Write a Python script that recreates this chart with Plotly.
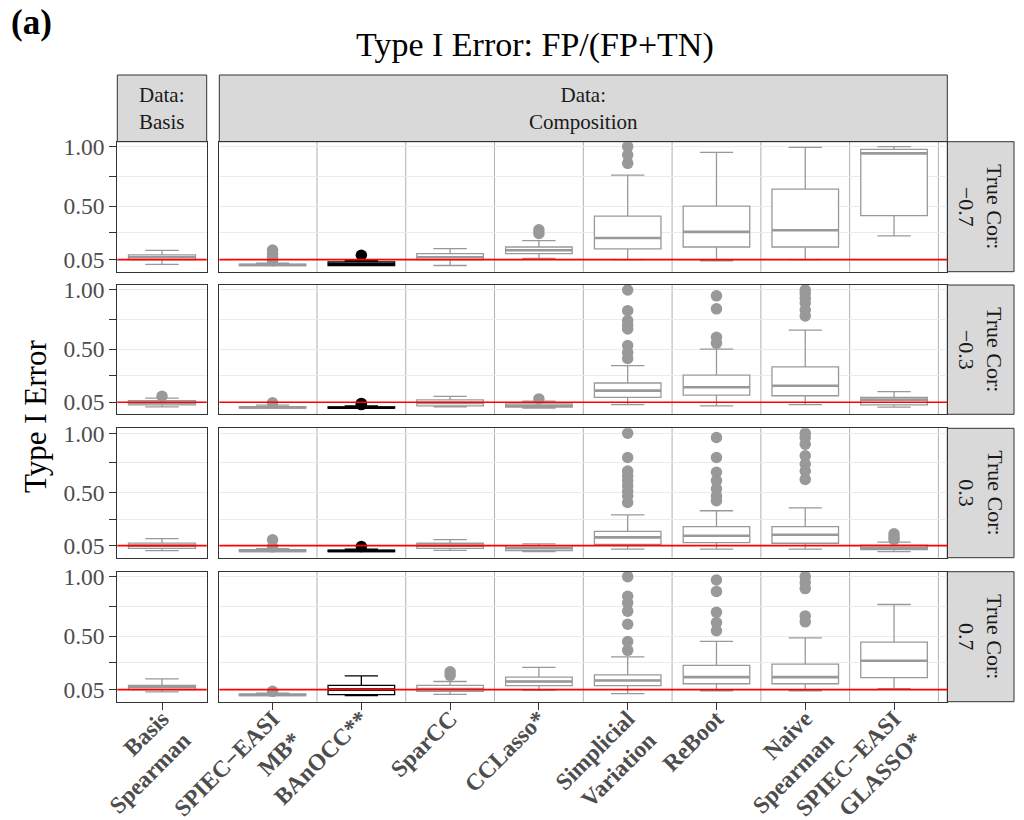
import plotly.graph_objects as go

# ---------------- data ----------------
methods = ["Basis Spearman", "SPIEC-EASI MB", "BAnOCC", "SparCC", "CCLasso",
           "Simplicial Variation", "ReBoot", "Naive Spearman", "SPIEC-EASI GLASSO"]
method_labels = ["Basis<br>Spearman", "SPIEC\u2212EASI<br>MB*", "BAnOCC**", "SparCC", "CCLasso*",
                 "Simplicial<br>Variation", "ReBoot", "Naive<br>Spearman", "SPIEC\u2212EASI<br>GLASSO*"]
method_group = ["Basis"] + ["Composition"] * 8
data_groups = ["Basis", "Composition"]
true_cor = ["\u22120.7", "\u22120.3", "0.3", "0.7"]
ALPHA = 0.05
y_tick_vals = [0.05, 0.275, 0.5, 0.75, 1.0]
y_tick_text = ["0.05", "", "0.50", "", "1.00"]

# box statistics, one row per True Cor level, one column per method
LOWER = [
    [0.01, 0.0, 0.0, 0.0, 0.06, 0.05, 0.04, 0.05, 0.25],
    [0.01, 0.0, 0.0, 0.01, 0.0, 0.03, 0.02, 0.03, 0.008],
    [0.008, 0.0, 0.0, 0.01, 0.0, 0.02, 0.02, 0.02, 0.0],
    [0.03, 0.0, 0.0, 0.01, 0.045, 0.016, 0.04, 0.04, 0.058],
]
Q1 = [
    [0.05, 0.0, 0.0, 0.05, 0.10, 0.14, 0.156, 0.156, 0.42],
    [0.027, 0.0, 0.0, 0.02, 0.008, 0.092, 0.11, 0.105, 0.027],
    [0.027, 0.0, 0.0, 0.027, 0.008, 0.06, 0.075, 0.07, 0.016],
    [0.05, 0.0, 0.008, 0.035, 0.083, 0.083, 0.099, 0.099, 0.151],
]
MEDIAN = [
    [0.07, 0.005, 0.015, 0.07, 0.128, 0.232, 0.283, 0.297, 0.944],
    [0.045, 0.005, 0.004, 0.045, 0.02, 0.148, 0.177, 0.19, 0.072],
    [0.05, 0.005, 0.005, 0.05, 0.028, 0.12, 0.134, 0.142, 0.03],
    [0.07, 0.005, 0.05, 0.055, 0.118, 0.127, 0.155, 0.155, 0.292],
]
Q3 = [
    [0.09, 0.012, 0.03, 0.10, 0.156, 0.415, 0.50, 0.643, 0.978],
    [0.063, 0.012, 0.01, 0.07, 0.036, 0.213, 0.28, 0.35, 0.092],
    [0.072, 0.016, 0.012, 0.07, 0.05, 0.17, 0.21, 0.21, 0.055],
    [0.085, 0.014, 0.085, 0.085, 0.155, 0.174, 0.254, 0.264, 0.449],
]
UPPER = [
    [0.128, 0.02, 0.04, 0.143, 0.21, 0.761, 0.953, 0.995, 1.0],
    [0.085, 0.025, 0.02, 0.10, 0.06, 0.36, 0.50, 0.66, 0.14],
    [0.11, 0.025, 0.02, 0.10, 0.065, 0.31, 0.345, 0.37, 0.08],
    [0.14, 0.02, 0.165, 0.118, 0.237, 0.325, 0.455, 0.485, 0.766],
]
OUTLIERS = [
    [[], [0.13, 0.10, 0.07, 0.04], [0.086], [], [0.30, 0.27],
     [1.0, 0.93, 0.86], [], [], []],
    [[0.10], [0.045], [0.04, 0.03], [], [0.078],
     [1.0, 0.825, 0.74, 0.70, 0.67, 0.53, 0.47, 0.42],
     [0.95, 0.84, 0.60, 0.55],
     [1.0, 0.97, 0.93, 0.89, 0.83, 0.78], []],
    [[], [0.10, 0.04], [0.042], [], [],
     [1.0, 0.795, 0.68, 0.64, 0.60, 0.556, 0.51, 0.47, 0.415],
     [0.964, 0.795, 0.67, 0.60, 0.53, 0.47, 0.43],
     [1.0, 0.964, 0.907, 0.81, 0.74, 0.68, 0.61],
     [0.15, 0.12, 0.10]],
    [[], [0.035], [], [0.20, 0.17], [],
     [1.0, 0.835, 0.78, 0.71, 0.60, 0.455, 0.38],
     [0.972, 0.876, 0.70, 0.614, 0.545],
     [1.0, 0.95, 0.90, 0.67, 0.62],
     []],
]

# ---------------- styling / layout ----------------
FONT = "Liberation Serif"
GREY = "#999999"
BLACK = "#000000"
W, H = 1024, 820
col_px = [(117.3, 206.7), (219.3, 947.3)]
row_px = [(141.7, 271.7), (285.0, 414.3), (428.3, 557.7), (571.7, 701.7)]
top_strip_px = (75.0, 141.7)
right_strip_px = (947.3, 1014.0)
x_ranges = [[-0.5, 0.5], [-0.6, 7.6]]
y_range = [-0.052, 1.042]


def px_x(v):
    return v / W


def px_y(v):
    return 1 - v / H


fig = go.Figure()
layout = {}
shapes = []
annotations = []

for r in range(4):
    for c, grp in enumerate(data_groups):
        n = r * 2 + c + 1
        xa = "x" if n == 1 else f"x{n}"
        ya = "y" if n == 1 else f"y{n}"
        idx = [i for i, g in enumerate(method_group) if g == grp]
        for color in (GREY, BLACK):
            sel = [i for i in idx if (methods[i] == "BAnOCC") == (color == BLACK)]
            if not sel:
                continue
            xs = [methods[i] for i in sel]
            meds = [MEDIAN[r][i] for i in sel]
            fig.add_trace(go.Box(
                x=xs,
                lowerfence=[LOWER[r][i] for i in sel],
                q1=[Q1[r][i] for i in sel],
                median=meds,
                q3=[Q3[r][i] for i in sel],
                upperfence=[UPPER[r][i] for i in sel],
                boxpoints=False, width=0.75,
                fillcolor="white", line=dict(color=color, width=1.3),
                xaxis=xa, yaxis=ya, showlegend=False, hoverinfo="skip"))
            # thicker median bar (as in ggplot's fattened median)
            fig.add_trace(go.Box(
                x=xs, lowerfence=meds, q1=meds, median=meds, q3=meds, upperfence=meds,
                boxpoints=False, width=0.75,
                fillcolor=color, line=dict(color=color, width=2.6),
                xaxis=xa, yaxis=ya, showlegend=False, hoverinfo="skip"))
            ox, oy = [], []
            for i in sel:
                for v in OUTLIERS[r][i]:
                    ox.append(methods[i])
                    oy.append(v)
            if ox:
                fig.add_trace(go.Scatter(
                    x=ox, y=oy, mode="markers",
                    marker=dict(color=color, size=11.5, line=dict(width=0)),
                    xaxis=xa, yaxis=ya, showlegend=False, hoverinfo="skip"))

        cats = [methods[i] for i in idx]
        labs = [method_labels[i] for i in idx]
        bottom = (r == 3)
        layout["xaxis" if n == 1 else f"xaxis{n}"] = dict(
            domain=[px_x(col_px[c][0]), px_x(col_px[c][1])],
            anchor=ya, type="category", automargin=False,
            categoryorder="array", categoryarray=cats,
            tickvals=cats, ticktext=labs,
            range=x_ranges[c], showgrid=False, zeroline=False,
            showline=True, mirror=True, linecolor="#333333", linewidth=1,
            ticks="outside" if bottom else "", ticklen=7, tickcolor="#333333", tickwidth=1,
            showticklabels=bottom, tickangle=-45, ticklabelstandoff=-14,
            tickfont=dict(family=FONT, size=23.5, color="#4d4d4d", weight="bold"),
            fixedrange=True)
        layout["yaxis" if n == 1 else f"yaxis{n}"] = dict(
            domain=[px_y(row_px[r][1]), px_y(row_px[r][0])],
            anchor=xa, range=y_range, automargin=False,
            tickmode="array", tickvals=y_tick_vals, ticktext=y_tick_text,
            showgrid=True, gridcolor="#ebebeb", gridwidth=1, zeroline=False,
            showline=True, mirror=True, linecolor="#333333", linewidth=1,
            ticks="outside" if c == 0 else "", ticklen=7, tickcolor="#333333", tickwidth=1,
            showticklabels=(c == 0),
            tickfont=dict(family=FONT, size=23.5, color="#4d4d4d"),
            fixedrange=True)

        # separators between method categories
        if grp == "Composition":
            for k in range(len(cats)):
                shapes.append(dict(type="line", xref=xa, yref=f"{ya} domain",
                                   x0=k + 0.5, x1=k + 0.5, y0=0, y1=1,
                                   line=dict(color="#b0b0b0", width=1), layer="below"))
        # alpha reference line
        shapes.append(dict(type="line", xref=f"{xa} domain", yref=ya,
                           x0=0, x1=1, y0=ALPHA, y1=ALPHA,
                           line=dict(color="#ff0000", width=1.6), layer="above"))

# top strips
for c, grp in enumerate(data_groups):
    shapes.append(dict(type="rect", xref="paper", yref="paper",
                       x0=px_x(col_px[c][0]), x1=px_x(col_px[c][1]),
                       y0=px_y(top_strip_px[1]), y1=px_y(top_strip_px[0]),
                       fillcolor="#d9d9d9", line=dict(color="#333333", width=1), layer="below"))
    annotations.append(dict(xref="paper", yref="paper",
                            x=px_x((col_px[c][0] + col_px[c][1]) / 2),
                            y=px_y((top_strip_px[0] + top_strip_px[1]) / 2),
                            xanchor="center", yanchor="middle",
                            text=f"Data:<br>{grp}", showarrow=False,
                            font=dict(family=FONT, size=21, color="#1a1a1a")))
# right strips
for r, lab in enumerate(true_cor):
    shapes.append(dict(type="rect", xref="paper", yref="paper",
                       x0=px_x(right_strip_px[0]), x1=px_x(right_strip_px[1]),
                       y0=px_y(row_px[r][1]), y1=px_y(row_px[r][0]),
                       fillcolor="#d9d9d9", line=dict(color="#333333", width=1), layer="below"))
    annotations.append(dict(xref="paper", yref="paper",
                            x=px_x((right_strip_px[0] + right_strip_px[1]) / 2),
                            y=px_y((row_px[r][0] + row_px[r][1]) / 2),
                            xanchor="center", yanchor="middle",
                            text=f"True Cor:<br>{lab}", textangle=90, showarrow=False,
                            font=dict(family=FONT, size=22, color="#1a1a1a")))

annotations.append(dict(xref="paper", yref="paper", x=px_x(535), y=px_y(45),
                        xanchor="center", yanchor="middle",
                        text="Type I Error: FP/(FP+TN)", showarrow=False,
                        font=dict(family=FONT, size=34, color="#000000")))
annotations.append(dict(xref="paper", yref="paper", x=px_x(31), y=px_y(22),
                        xanchor="center", yanchor="middle",
                        text="<b>(a)</b>", showarrow=False,
                        font=dict(family=FONT, size=35, color="#000000")))
annotations.append(dict(xref="paper", yref="paper", x=px_x(35), y=px_y(417),
                        xanchor="center", yanchor="middle",
                        text="Type I Error", textangle=-90, showarrow=False,
                        font=dict(family=FONT, size=31, color="#000000")))

fig.update_layout(
    template="none",
    width=W, height=H, margin=dict(l=0, r=0, t=0, b=0, pad=0, autoexpand=False),
    paper_bgcolor="white", plot_bgcolor="white",
    boxmode="overlay", shapes=shapes, annotations=annotations,
    showlegend=False, font=dict(family=FONT), **layout)

fig.write_html("out.html", config={"displayModeBar": False},
               post_script="document.body.style.margin='0';document.body.style.overflow='hidden';")
